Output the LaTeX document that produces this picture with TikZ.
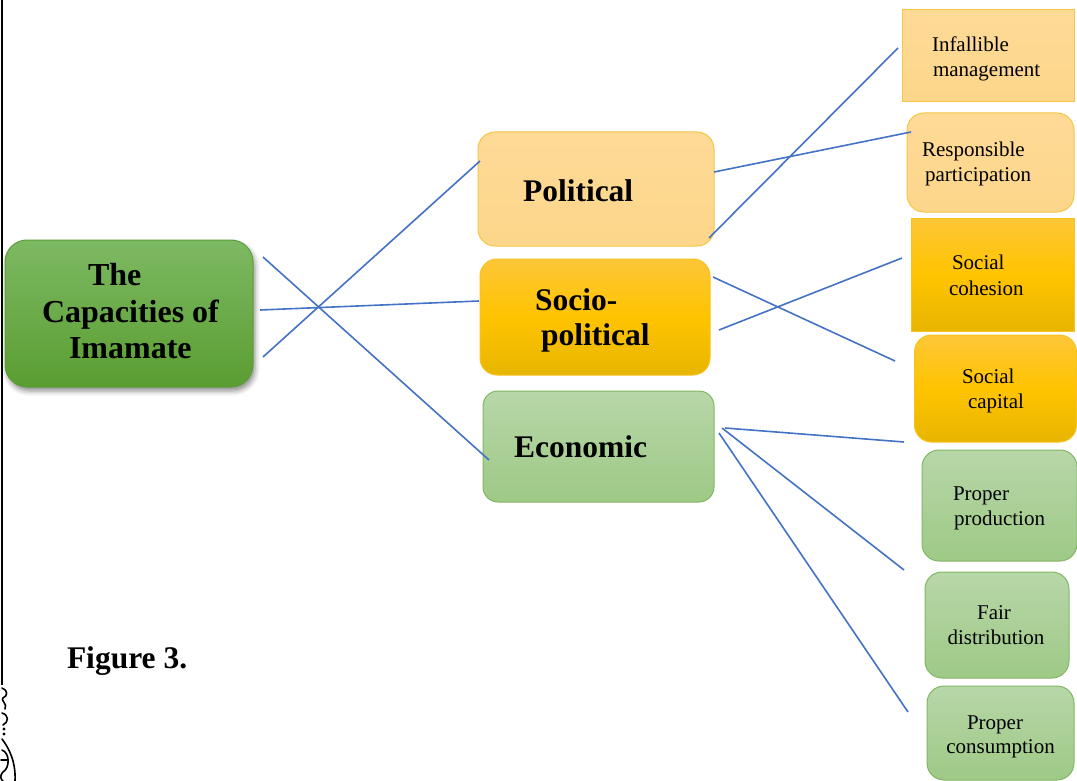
\documentclass[tikz,border=0pt]{standalone}
\usepackage{fontspec}
\setmainfont{Liberation Serif}
\usetikzlibrary{shadows.blur}

\definecolor{linkblue}{HTML}{4472C4}
\definecolor{rootline}{HTML}{5E9E3A}
\definecolor{roottop}{HTML}{7DB963}
\definecolor{rootbot}{HTML}{5A9D31}
\definecolor{peachline}{HTML}{F7C544}
\definecolor{peachtop}{HTML}{FEDA97}
\definecolor{peachbot}{HTML}{FCD68A}
\definecolor{goldline}{HTML}{F8C21E}
\definecolor{goldtop}{HTML}{FDC638}
\definecolor{goldmid}{HTML}{FFC400}
\definecolor{goldbot}{HTML}{E7B500}
\definecolor{sageline}{HTML}{82B764}
\definecolor{sagetop}{HTML}{B7D7A8}
\definecolor{sagebot}{HTML}{9EC986}

\begin{document}
\begin{tikzpicture}[x=1pt,y=-1pt,
  box/.style={draw, line width=1pt, inner sep=0pt, outer sep=0pt},
  rootbox/.style={box, draw=rootline, top color=roottop, bottom color=rootbot,
    blur shadow={shadow xshift=2pt, shadow yshift=-4pt, shadow blur radius=5pt, shadow opacity=45}},
  peach/.style={box, draw=peachline, top color=peachtop, bottom color=peachbot},
  gold/.style={box, draw=goldline, top color=goldtop, bottom color=goldbot, middle color=goldmid},
  sage/.style={box, draw=sageline, top color=sagetop, bottom color=sagebot},
  bigtxt/.style={inner sep=0pt, outer sep=0pt, font=\fontsize{31.5}{37}\selectfont\bfseries},
  roottxt/.style={inner sep=0pt, outer sep=0pt, font=\fontsize{32}{37}\selectfont\bfseries},
  smalltxt/.style={inner sep=0pt, outer sep=0pt, font=\fontsize{21}{25}\selectfont},
  link/.style={draw=linkblue, line width=1.6pt},
  ornament/.style={draw=black, line width=1.6pt, line cap=round}]

\useasboundingbox (0,0) rectangle (1077,781);

% page rule and ornament on the left margin
\coordinate (ruletop) at (2,0);
\coordinate (rulebot) at (2,685);
\draw[line width=1.1pt] (ruletop) -- (rulebot);
\draw[ornament] (2,688) .. controls (8,690) and (8,696) .. (3,698)
                .. controls (0,700) and (8,704) .. (5,709);
\draw[ornament] (2,713) .. controls (9,715) and (9,722) .. (3,725);
\fill (4,729) circle (1.6pt);
\fill (4,734) circle (1.6pt);
\draw[ornament] (2,739) .. controls (9,748) and (16,762) .. (15,781);
\draw[ornament] (2,750) .. controls (10,753) and (10,768) .. (3,772)
                .. controls (0,775) and (0,779) .. (3,781);
\draw[ornament] (1,760) -- (7,760);

% boxes
\node[rootbox, rounded corners=22pt, minimum width=248pt, minimum height=147pt] (root) at (129,313.5) {};
\node[peach, rounded corners=17pt, minimum width=236pt, minimum height=114pt] (pol) at (596,189) {};
\node[gold,  rounded corners=17pt, minimum width=230pt, minimum height=116pt] (soc) at (595,317) {};
\node[sage,  rounded corners=15pt, minimum width=231pt, minimum height=111pt] (eco) at (598.5,446.5) {};

\node[peach, minimum width=172pt, minimum height=92pt] (inf) at (988,56) {};
\node[peach, rounded corners=17pt, minimum width=167pt, minimum height=99pt] (res) at (990.5,162.5) {};
\node[gold,  minimum width=163pt, minimum height=113pt] (coh) at (992.5,274.5) {};
\node[gold,  rounded corners=17pt, minimum width=162pt, minimum height=107pt] (cap) at (995.5,388.5) {};
\node[sage,  rounded corners=17pt, minimum width=155pt, minimum height=111pt] (pro) at (999.5,505.5) {};
\node[sage,  rounded corners=17pt, minimum width=144pt, minimum height=106pt] (dis) at (997,625) {};
\node[sage,  rounded corners=17pt, minimum width=147pt, minimum height=94pt] (con) at (1000.5,733) {};

% texts
\node[roottxt, anchor=base west] (rootA) at (88,285) {The};
\node[roottxt, anchor=base west] (rootB) at (42,322) {Capacities of};
\node[roottxt, anchor=base west] (rootC) at (69,358) {Imamate};

\node[bigtxt, anchor=base west] (polA) at (523,201) {Political};
\node[bigtxt, anchor=base west] (socA) at (535,310) {Socio-};
\node[bigtxt, anchor=base west] (socB) at (541,345) {political};
\node[bigtxt, anchor=base west] (ecoA) at (514,457) {Economic};

\node[smalltxt, anchor=base west] (infA) at (932,52) {Infallible};
\node[smalltxt, anchor=base west] (infB) at (933,77) {management};
\node[smalltxt, anchor=base west] (resA) at (922,157) {Responsible};
\node[smalltxt, anchor=base west] (resB) at (925,182) {participation};
\node[smalltxt, anchor=base west] (cohA) at (952,269) {Social};
\node[smalltxt, anchor=base west] (cohB) at (949,295) {cohesion};
\node[smalltxt, anchor=base west] (capA) at (962,383) {Social};
\node[smalltxt, anchor=base west] (capB) at (968,408) {capital};
\node[smalltxt, anchor=base west] (proA) at (953,500) {Proper};
\node[smalltxt, anchor=base west] (proB) at (954,525) {production};
\node[smalltxt, anchor=base] (disA) at (994,619) {Fair};
\node[smalltxt, anchor=base] (disB) at (996,644) {distribution};
\node[smalltxt, anchor=base] (conA) at (995,729) {Proper};
\node[smalltxt, anchor=base] (conB) at (1000.5,753) {consumption};

\node[bigtxt, anchor=base west] (fig) at (67,668) {Figure 3.};

% connector end points
\coordinate (rootT) at (263,257);
\coordinate (rootM) at (260,310);
\coordinate (rootB) at (263,357);
\coordinate (polL) at (480,161);
\coordinate (socL) at (479,301);
\coordinate (ecoL) at (489,460);
\coordinate (polR1) at (714,172);
\coordinate (polR2) at (709,238);
\coordinate (socR1) at (713,277);
\coordinate (socR2) at (719,330);
\coordinate (ecoR1) at (725,428);
\coordinate (ecoR2) at (722,428);
\coordinate (ecoR3) at (719,433);
\coordinate (infL) at (898,48);
\coordinate (resL) at (911,132);
\coordinate (cohL) at (902,258);
\coordinate (capL) at (895,361);
\coordinate (proL) at (904,442);
\coordinate (disL) at (904,570);
\coordinate (conL) at (908,712);

% connectors
\draw[link] (rootT) -- (ecoL);
\draw[link] (rootM) -- (socL);
\draw[link] (rootB) -- (polL);
\draw[link] (polR1) -- (resL);
\draw[link] (polR2) -- (infL);
\draw[link] (socR1) -- (capL);
\draw[link] (socR2) -- (cohL);
\draw[link] (ecoR1) -- (proL);
\draw[link] (ecoR2) -- (disL);
\draw[link] (ecoR3) -- (conL);
\end{tikzpicture}
\end{document}
